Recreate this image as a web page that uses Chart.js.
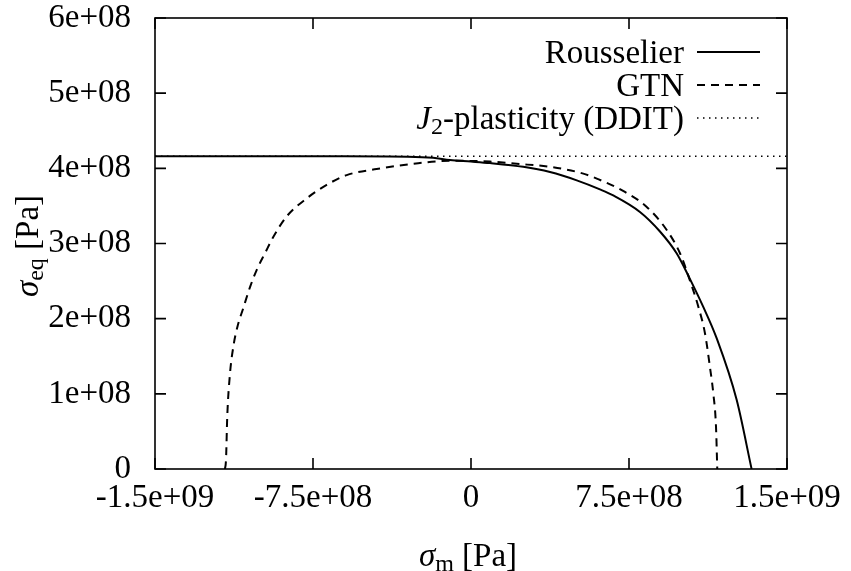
<!DOCTYPE html>
<html>
<head>
<meta charset="utf-8">
<script src="https://cdn.jsdelivr.net/npm/chart.js@4/dist/chart.umd.min.js"></script>
<style>
  html, body { margin: 0; padding: 0; background: #fff; }
  #wrap { width: 851px; height: 571px; }
</style>
</head>
<body>
<div id="wrap"><canvas id="yieldChart" width="851" height="571"></canvas></div>
<script>
// values (Pa)
const rousselierX = [-1.5e9, -0.6e9, -0.3e9, -0.18e9, -0.1e9, 0, 0.09e9, 0.248e9, 0.375e9, 0.502e9, 0.612e9, 0.675e9, 0.802e9, 0.897e9, 0.976e9, 1.039e9, 1.102e9, 1.166e9, 1.261e9, 1.332e9];
const rousselierY = [4.16e8, 4.16e8, 4.155e8, 4.14e8, 4.11e8, 4.09e8, 4.07e8, 4.02e8, 3.95e8, 3.84e8, 3.72e8, 3.64e8, 3.42e8, 3.16e8, 2.87e8, 2.53e8, 2.16e8, 1.74e8, 0.92e8, 0];

const gtnX = [-1.168e9, -1.163e9, -1.157e9, -1.144e9, -1.128e9, -1.109e9, -1.081e9, -1.049e9, -1.017e9, -0.978e9, -0.938e9, -0.875e9, -0.78e9, -0.685e9, -0.59e9, -0.448e9, -0.274e9, -0.1e9, 0.09e9, 0.217e9, 0.375e9, 0.533e9, 0.6e9, 0.722e9, 0.833e9, 0.929e9, 0.992e9, 1.039e9, 1.079e9, 1.111e9, 1.134e9, 1.15e9, 1.163e9, 1.169e9];
const gtnY = [0, 0.12e8, 0.70e8, 1.27e8, 1.63e8, 1.89e8, 2.14e8, 2.42e8, 2.65e8, 2.87e8, 3.09e8, 3.36e8, 3.60e8, 3.78e8, 3.91e8, 3.99e8, 4.06e8, 4.10e8, 4.09e8, 4.06e8, 4.02e8, 3.93e8, 3.86e8, 3.70e8, 3.49e8, 3.18e8, 2.87e8, 2.51e8, 2.16e8, 1.80e8, 1.36e8, 1.01e8, 0.56e8, 0];

const j2X = [-1.5e9, 1.5e9];
const j2Y = [4.16e8, 4.16e8];

const xTickValues = [-1.5e9, -7.5e8, 0, 7.5e8, 1.5e9];
const xTickLabels = ["-1.5e+09", "-7.5e+08", "0", "7.5e+08", "1.5e+09"];
const yTickValues = [0, 1e8, 2e8, 3e8, 4e8, 5e8, 6e8];
const yTickLabels = ["0", "1e+08", "2e+08", "3e+08", "4e+08", "5e+08", "6e+08"];

const seriesNames = ["Rousselier", "GTN", "J2-plasticity (DDIT)"];

const SERIF = "'Liberation Serif', 'DejaVu Serif', serif";
const FS = 33;

function toPoints(xs, ys) {
    return xs.map((x, i) => ({ x: x, y: ys[i] }));
}

const datasets = [
    { label: seriesNames[0], data: toPoints(rousselierX, rousselierY), borderColor: "#000", borderWidth: 2, borderDash: [] },
    { label: seriesNames[1], data: toPoints(gtnX, gtnY), borderColor: "#000", borderWidth: 2, borderDash: [8, 6] },
    { label: seriesNames[2], data: toPoints(j2X, j2Y), borderColor: "#000", borderWidth: 1.5, borderDash: [1.5, 4.5] }
];
datasets.forEach(ds => { ds.pointRadius = 0; ds.fill = false; ds.cubicInterpolationMode = "monotone"; });

// pieces: [text, italic, subscript]
function drawPieces(ctx, pieces, x, y, size) {
    pieces.forEach(p => {
        const sz = p[2] ? Math.round(size * 0.72) : size;
        ctx.font = (p[1] ? "italic " : "") + sz + "px " + SERIF;
        ctx.fillText(p[0], x, y + (p[2] ? size * 0.15 : 0));
        x += ctx.measureText(p[0]).width;
    });
}
function piecesWidth(ctx, pieces, size) {
    let w = 0;
    pieces.forEach(p => {
        const sz = p[2] ? Math.round(size * 0.72) : size;
        ctx.font = (p[1] ? "italic " : "") + sz + "px " + SERIF;
        w += ctx.measureText(p[0]).width;
    });
    return w;
}

const framePlugin = {
    id: "frame",
    afterDraw(chart) {
        const ctx = chart.ctx;
        const a = chart.chartArea;
        const xs = chart.scales.x, ys = chart.scales.y;
        const tl = 11;
        ctx.save();
        ctx.strokeStyle = "#000";
        ctx.lineWidth = 1.6;
        ctx.setLineDash([]);
        ctx.strokeRect(a.left, a.top, a.right - a.left, a.bottom - a.top);
        ctx.beginPath();
        xTickValues.forEach(v => {
            const px = xs.getPixelForValue(v);
            ctx.moveTo(px, a.bottom); ctx.lineTo(px, a.bottom - tl);
            ctx.moveTo(px, a.top); ctx.lineTo(px, a.top + tl);
        });
        yTickValues.forEach(v => {
            const py = ys.getPixelForValue(v);
            ctx.moveTo(a.left, py); ctx.lineTo(a.left + tl, py);
            ctx.moveTo(a.right, py); ctx.lineTo(a.right - tl, py);
        });
        ctx.stroke();

        // legend: text right aligned, sample line to the right
        const legendRows = [
            [[seriesNames[0], false, false]],
            [[seriesNames[1], false, false]],
            [["J", true, false], ["2", false, true], ["-plasticity (DDIT)", false, false]]
        ];
        const textRight = 684, lineL = 697, lineR = 760;
        const rowY = [52, 85, 118];
        ctx.fillStyle = "#000";
        ctx.textBaseline = "alphabetic";
        ctx.textAlign = "left";
        legendRows.forEach((row, i) => {
            const w = piecesWidth(ctx, row, FS);
            drawPieces(ctx, row, textRight - w, rowY[i] + 11, FS);
            const ds = chart.data.datasets[i];
            ctx.lineWidth = ds.borderWidth;
            ctx.setLineDash(ds.borderDash);
            ctx.beginPath();
            ctx.moveTo(lineL, rowY[i]); ctx.lineTo(lineR, rowY[i]);
            ctx.stroke();
        });
        ctx.setLineDash([]);

        // axis titles
        const xTitle = [["σ", true, false], ["m", false, true], [" [Pa]", false, false]];
        const wx = piecesWidth(ctx, xTitle, FS);
        drawPieces(ctx, xTitle, 468 - wx / 2, 566, FS);

        const yTitle = [["σ", true, false], ["eq", false, true], [" [Pa]", false, false]];
        ctx.translate(38, 246);
        ctx.rotate(-Math.PI / 2);
        const wy = piecesWidth(ctx, yTitle, FS);
        drawPieces(ctx, yTitle, -wy / 2, 0, FS);
        ctx.restore();
    }
};

new Chart(document.getElementById("yieldChart"), {
    type: "line",
    data: { datasets },
    options: {
        responsive: false,
        animation: false,
        layout: { padding: { top: 18, right: 64, left: 0, bottom: 0 } },
        plugins: { legend: { display: false }, tooltip: { enabled: false } },
        scales: {
            x: {
                type: "linear",
                min: -1.5e9, max: 1.5e9,
                grid: { display: false },
                border: { display: false },
                afterBuildTicks: s => { s.ticks = xTickValues.map(v => ({ value: v })); },
                afterFit: s => { s.height = 102; s.paddingLeft = 0; s.paddingRight = 0; },
                ticks: {
                    color: "#000",
                    padding: 2,
                    maxRotation: 0,
                    autoSkip: false,
                    font: { family: SERIF, size: FS },
                    callback: v => xTickLabels[xTickValues.indexOf(v)]
                }
            },
            y: {
                min: 0, max: 6e8,
                grid: { display: false },
                border: { display: false },
                afterBuildTicks: s => { s.ticks = yTickValues.map(v => ({ value: v })); },
                afterFit: s => { s.width = 155; s.paddingTop = 0; s.paddingBottom = 0; },
                ticks: {
                    color: "#000",
                    padding: 16,
                    autoSkip: false,
                    font: { family: SERIF, size: FS },
                    callback: v => yTickLabels[yTickValues.indexOf(v)]
                }
            }
        }
    },
    plugins: [framePlugin]
});
</script>
</body>
</html>
